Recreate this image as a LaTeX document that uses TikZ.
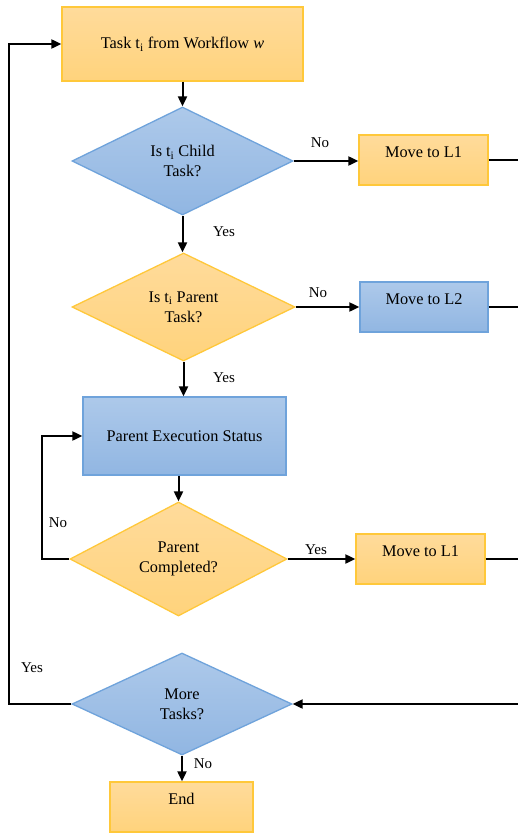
\documentclass[tikz,border=0pt]{standalone}
\usepackage{fontspec}
\setmainfont{Liberation Serif}
\usetikzlibrary{shapes.geometric,arrows.meta}
\definecolor{orTop}{HTML}{FFDB9B}
\definecolor{orBot}{HTML}{FFD37C}
\definecolor{orLine}{HTML}{FFC83A}
\definecolor{blTop}{HTML}{ADC9EA}
\definecolor{blBot}{HTML}{91B6E2}
\definecolor{blLine}{HTML}{6FA3DB}
\tikzset{
  every node/.style={font=\fontsize{16.3}{20}\selectfont},
  orangefill/.style={top color=orTop,bottom color=orBot,draw=orLine,line width=1.3pt},
  bluefill/.style={top color=blTop,bottom color=blBot,draw=blLine,line width=1.3pt},
  procbox/.style={rectangle,inner sep=0pt,align=center},
  uptext/.style={text height=11pt,text depth=16pt},
  decision/.style={diamond,inner sep=0pt,align=center},
  arr/.style={draw=black,line width=2pt,-{Triangle[length=10pt,width=9pt]}},
  plain/.style={draw=black,line width=2pt},
  lbl/.style={font=\fontsize{15}{18}\selectfont}
}
\begin{document}
\begin{tikzpicture}[x=1pt,y=1pt]
\useasboundingbox (0,0) rectangle (518,-833);
\fill[white] (0,0) rectangle (518,-833);
\coordinate (lx) at (9,0);
\coordinate (nx) at (42,0);
\coordinate (re) at (518,0);

\node[procbox,orangefill,minimum width=241pt,minimum height=74pt] (T) at (182.5,-44) {Task t\textsubscript{i} from Workflow \textit{w}};
\node[decision,bluefill,minimum width=221pt,minimum height=108pt] (D1) at (182.5,-161) {Is t\textsubscript{i} Child\\Task?};
\node[procbox,orangefill,uptext,minimum width=129pt,minimum height=50pt] (L1a) at (423.5,-160) {Move to L1};
\node[decision,orangefill,minimum width=223pt,minimum height=108pt] (D2) at (183.5,-307) {Is t\textsubscript{i} Parent\\Task?};
\node[procbox,bluefill,uptext,minimum width=128pt,minimum height=50pt] (L2) at (424,-307) {Move to L2};
\node[procbox,bluefill,minimum width=203pt,minimum height=78pt] (P) at (184.5,-436) {Parent Execution Status};
\node[decision,orangefill,minimum width=217pt,minimum height=114pt] (D3) at (178.5,-559) {Parent\\Completed?};
\node[procbox,orangefill,uptext,minimum width=129pt,minimum height=50pt] (L1b) at (420.5,-559) {Move to L1};
\node[decision,bluefill,minimum width=220pt,minimum height=102pt] (D4) at (182,-704) {More\\Tasks?};
\node[procbox,orangefill,uptext,minimum width=143pt,minimum height=50pt] (E) at (181.5,-807) {End};

% main flow
\draw[arr] (T.south) -- (D1.north);
\draw[arr] (D1.south) -- (D1.south |- D2.north);
\draw[arr] (D2.south) -- (D2.south |- P.north);
\draw[arr] (D3.north |- P.south) -- (D3.north);
\draw[arr] (D4.south) -- (D4.south |- E.north);

% side branches
\draw[arr] (D1.east) -- (D1.east -| L1a.west);
\draw[plain] (L1a.east) -- (L1a.east -| re);
\draw[arr] (D2.east) -- (D2.east -| L2.west);
\draw[plain] (L2.east) -- (L2.east -| re);
\draw[arr] (D3.east) -- (D3.east -| L1b.west);
\draw[plain] (L1b.east) -- (L1b.east -| re);
\coordinate (rin) at (518,-704);
\draw[arr] (rin) -- (D4.east);

% loops
\draw[arr] (D3.west) -- (D3.west -| nx) |- (P.west);
\draw[arr] (D4.west) -- (D4.west -| lx) |- (T.west);

% labels
\node[lbl] (n1) at (320,-143) {No};
\node[lbl] (y1) at (224,-232) {Yes};
\node[lbl] (n2) at (318,-293) {No};
\node[lbl] (y2) at (224,-378) {Yes};
\node[lbl] (n3) at (58,-523) {No};
\node[lbl] (y3) at (316,-550) {Yes};
\node[lbl] (y4) at (32,-668) {Yes};
\node[lbl] (n4) at (203,-764) {No};
\end{tikzpicture}
\end{document}
